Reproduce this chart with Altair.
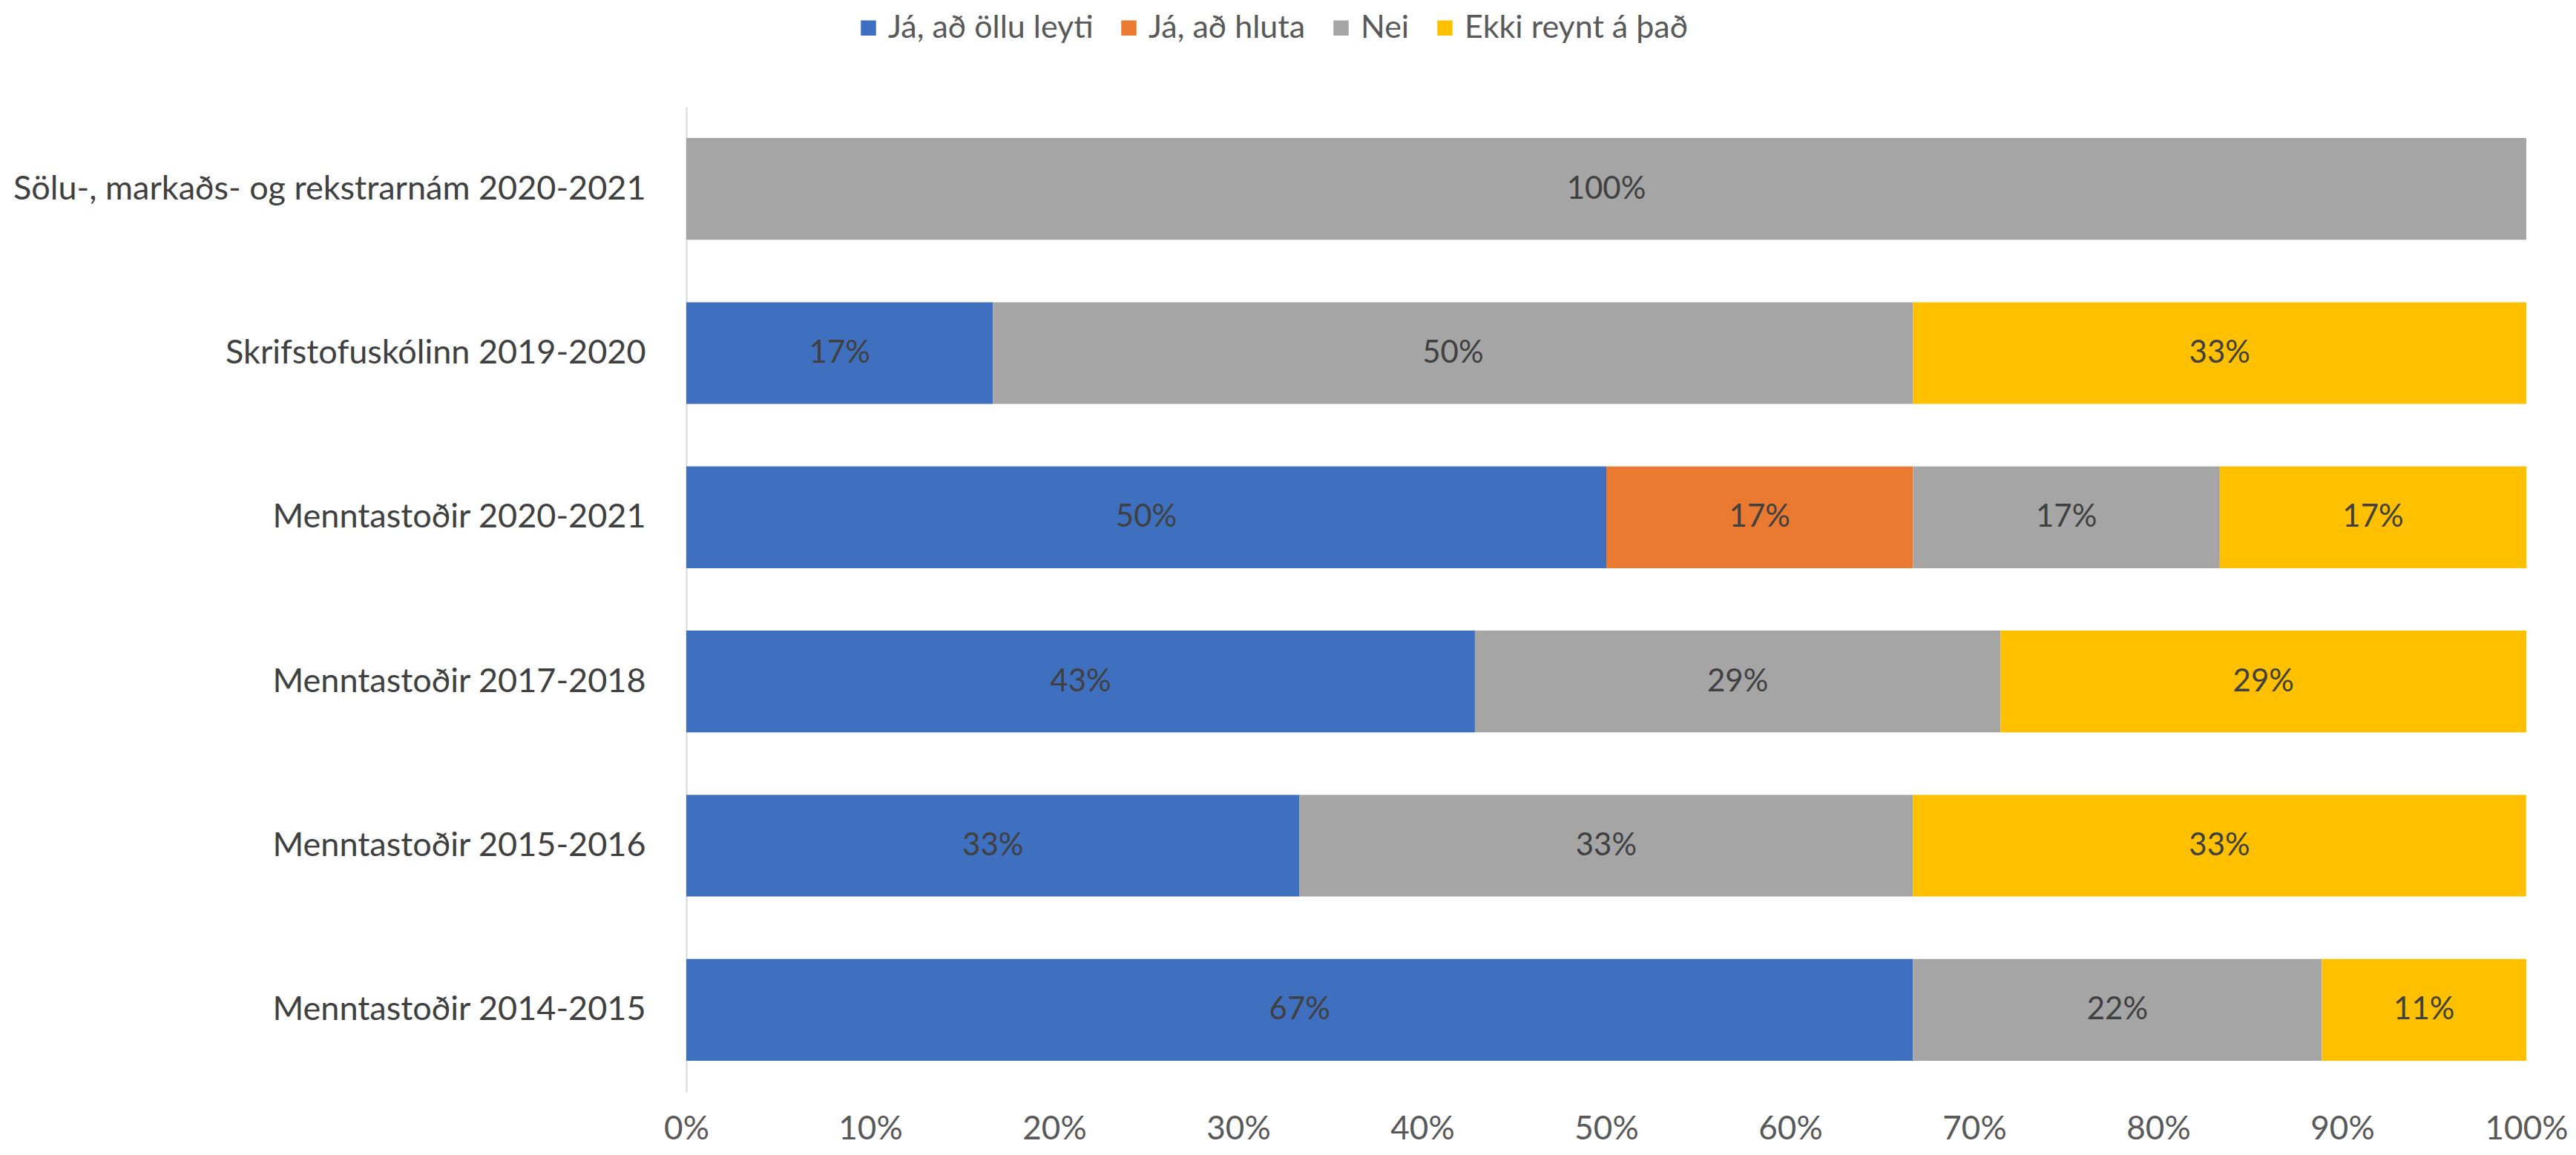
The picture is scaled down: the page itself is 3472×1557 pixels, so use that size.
import altair as alt
import pandas as pd

categories = [
    "Sölu-, markaðs- og rekstrarnám 2020-2021",
    "Skrifstofuskólinn 2019-2020",
    "Menntastoðir 2020-2021",
    "Menntastoðir 2017-2018",
    "Menntastoðir 2015-2016",
    "Menntastoðir 2014-2015",
]
series = ["Já, að öllu leyti", "Já, að hluta", "Nei", "Ekki reynt á það"]
colors = ["#3F70BF", "#EA7A31", "#A5A5A5", "#FFC000"]

ja_ollu = [0.0, 0.1667, 0.5, 0.4286, 0.3333, 0.6667]
ja_hluta = [0.0, 0.0, 0.1667, 0.0, 0.0, 0.0]
nei = [1.0, 0.5, 0.1667, 0.2857, 0.3333, 0.2222]
ekki = [0.0, 0.3333, 0.1667, 0.2857, 0.3333, 0.1111]

rows = []
for i, cat in enumerate(categories):
    start = 0.0
    for k, (s, vals) in enumerate(zip(series, [ja_ollu, ja_hluta, nei, ekki])):
        v = vals[i]
        if v > 0:
            rows.append({"cat": cat, "series": s, "order": k, "value": v,
                         "x0": start, "x1": start + v, "mid": start + v / 2})
        start += v
df = pd.DataFrame(rows)

FONT = "Lato"

base = alt.Chart(df)
bars = base.mark_bar().encode(
    y=alt.Y("cat:N", sort=categories, title=None,
            scale=alt.Scale(paddingInner=0.38, paddingOuter=0.19),
            axis=alt.Axis(domain=True, domainColor="#D9D9D9", domainWidth=2,
                          ticks=False, labelPadding=55, labelFontSize=45,
                          labelColor="#404040", labelFont=FONT, labelLimit=1000)),
    x=alt.X("x0:Q", title=None,
            scale=alt.Scale(domain=[0, 1], nice=False),
            axis=alt.Axis(format=".0%", values=[i / 10 for i in range(11)],
                          domain=False, ticks=False, grid=False, labelPadding=28,
                          labelFlush=False, labelOverlap=False,
                          labelFontSize=44, labelColor="#595959", labelFont=FONT)),
    x2="x1:Q",
    color=alt.Color("series:N", sort=series,
                    scale=alt.Scale(domain=series, range=colors),
                    legend=alt.Legend(title=None, orient="none", direction="horizontal",
                                      legendX=224, legendY=-128,
                                      symbolType="square", symbolSize=420,
                                      symbolStrokeWidth=0, labelFontSize=43,
                                      labelFont=FONT, labelColor="#595959",
                                      labelOffset=5, columnPadding=26,
                                      labelLimit=1000)),
)

labels = base.mark_text(fontSize=42, font=FONT, color="#404040").encode(
    y=alt.Y("cat:N", sort=categories),
    x=alt.X("mid:Q"),
    text=alt.Text("value:Q", format=".0%"),
)

chart = (bars + labels).properties(
    width=2480, height=1328,
    background="white",
    autosize=alt.AutoSizeParams(type="none"),
    padding={"left": 917, "top": 136, "right": 59, "bottom": 77},
).configure_view(strokeWidth=0, stroke="transparent")

chart.save("out.html", embed_options={"renderer": "svg", "actions": False})
